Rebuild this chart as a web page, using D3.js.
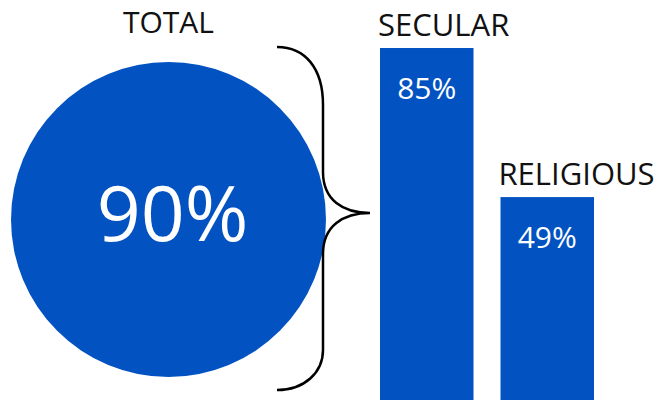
<!DOCTYPE html>
<html>
<head>
<meta charset="utf-8">
<script src="https://cdn.jsdelivr.net/npm/d3@7"></script>
<style>
  html, body { margin: 0; padding: 0; background: #fff; }
  svg { display: block; }
  text { font-family: "Open Sans", "Noto Sans", sans-serif; }
</style>
</head>
<body>
<svg id="chart" width="661" height="400"></svg>
<script>
// ---- data ----
const totalLabel = "TOTAL";
const totalValue = 90;
const barCategories = ["SECULAR", "RELIGIOUS"];
const barValues = [85, 49];

// ---- setup ----
const W = 661, H = 400;
const blue = "#0253c1";
const svg = d3.select("#chart");

// circle
const rScale = d3.scaleSqrt().domain([0, 100]).range([0, 166]);
const cx = 168.5, cy = 219.5;
svg.append("circle")
  .attr("cx", cx).attr("cy", cy)
  .attr("r", rScale(totalValue))
  .attr("fill", blue);

svg.append("text")
  .attr("x", cx).attr("y", 33)
  .attr("text-anchor", "middle")
  .attr("font-size", 30)
  .attr("fill", "#111")
  .text(totalLabel);

svg.append("text")
  .attr("x", cx + 4).attr("y", cy + 21)
  .attr("text-anchor", "middle")
  .attr("font-size", 77)
  .attr("fill", "#fff")
  .text(totalValue + "%");

// brace
svg.append("path")
  .attr("d", "M277,47 C305,47 323,68 323,105 L323,172 C323,200 343,213 370,213 C343,213 323,226 323,254 L323,350 C323,372 305,390 277,390")
  .attr("fill", "none")
  .attr("stroke", "#000")
  .attr("stroke-width", 2.5);

// bars
const x = d3.scaleBand().domain(barCategories).range([380, 594]).paddingInner(0.224).paddingOuter(0);
const y = d3.scaleLinear().domain([0, 100]).range([H, H - 414.1]);
const data = barCategories.map((c, i) => ({ c, v: barValues[i] }));

const g = svg.append("g");
g.selectAll("rect").data(data).join("rect")
  .attr("x", d => x(d.c))
  .attr("y", d => y(d.v))
  .attr("width", x.bandwidth())
  .attr("height", d => y(0) - y(d.v))
  .attr("fill", blue);

g.selectAll("text.cat").data(data).join("text")
  .attr("class", "cat")
  .attr("x", d => x(d.c) - 2)
  .attr("y", d => y(d.v) - 12)
  .attr("font-size", 31)
  .attr("fill", "#111")
  .text(d => d.c);

g.selectAll("text.val").data(data).join("text")
  .attr("class", "val")
  .attr("x", d => x(d.c) + x.bandwidth() / 2)
  .attr("y", d => y(d.v) + 51)
  .attr("text-anchor", "middle")
  .attr("font-size", 30)
  .attr("fill", "#fff")
  .text(d => d.v + "%");
</script>
</body>
</html>
